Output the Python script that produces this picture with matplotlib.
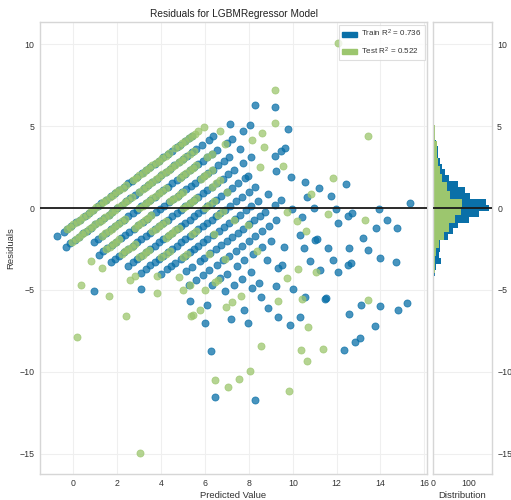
import matplotlib.pyplot as plt
import numpy as np

plt.rcParams['font.family'] = ['Liberation Sans', 'DejaVu Sans']
plt.rcParams['mathtext.default'] = 'regular'

train_color = '#0A70A8'
test_color = '#9CC66E'

# true (integer) target values; every point sits on one of these bands
true_values = [1, 2, 3, 4, 5, 6, 7, 8, 9, 10, 11, 12, 13, 14, 15, 16, 17, 18, 19, 20, 21]

# predicted values of the train points, one list per true value
train_pred = [
    [-0.73, -0.45, -0.28, -0.1, 0.12, 0.3, 0.52, 0.7, 0.88, 1.1, 1.28, 1.5, 1.72, 1.9, 2.08, 2.3,
     2.5, 2.68, 2.9, 3.12, 3.3, 3.48, 3.7, 3.9, 4.1, 4.32, 4.5, 4.7, 4.88, 5.1, 5.28, 5.42],
    [-0.35, -0.15, 0.05, 0.25, 0.45, 0.62, 0.8, 1.0, 1.2, 1.4, 1.6, 1.78, 2.0, 2.2, 2.4, 2.6, 2.8,
     3.0, 3.2, 3.4, 3.6, 3.8, 4.0, 4.2, 4.4, 4.6, 4.8, 5.0, 5.2, 5.4, 5.6, 5.86, 6.16, 6.38, 7.15, 8.29],
    [0.94, 1.12, 1.3, 1.5, 1.7, 1.88, 2.1, 2.3, 2.5, 2.7, 2.9, 3.1, 3.3, 3.5, 3.7, 3.9, 4.1, 4.3,
     4.5, 4.7, 4.9, 5.1, 5.3, 5.5, 5.7, 5.9, 6.1, 6.32, 6.55, 7.0, 7.23, 7.72, 8.06, 9.2],
    [1.16, 1.35, 1.55, 1.75, 1.95, 2.15, 2.35, 2.55, 2.75, 2.95, 3.15, 3.35, 3.55, 3.75, 3.95, 4.15,
     4.35, 4.55, 4.75, 4.95, 5.15, 5.35, 5.55, 5.75, 5.95, 6.15, 6.35, 6.6, 6.85, 7.1, 7.6],
    [1.7, 1.9, 2.1, 2.3, 2.5, 2.7, 2.9, 3.1, 3.3, 3.5, 3.7, 3.9, 4.1, 4.3, 4.5, 4.7, 4.9, 5.1, 5.3,
     5.5, 5.7, 5.9, 6.1, 6.3, 6.55, 6.8, 7.05, 7.3, 7.75, 8.1, 9.8],
    [0.94, 2.48, 2.7, 2.9, 3.1, 3.3, 3.5, 3.7, 3.9, 4.1, 4.3, 4.5, 4.7, 4.9, 5.1, 5.3, 5.5, 5.7,
     5.9, 6.1, 6.3, 6.5, 6.75, 7.0, 7.25, 7.5, 7.83, 7.98, 9.2, 9.47, 9.65],
    [3.06, 3.29, 3.5, 3.7, 3.9, 4.1, 4.3, 4.5, 4.7, 4.9, 5.1, 5.3, 5.5, 5.7, 5.9, 6.1, 6.3, 6.5,
     6.7, 6.9, 7.15, 7.4, 7.7, 8.0, 8.3, 9.24],
    [3.06, 4.0, 4.25, 4.45, 4.65, 4.9, 5.1, 5.3, 5.5, 5.7, 5.9, 6.1, 6.35, 6.62, 6.85, 7.1, 7.35,
     7.6, 7.85, 8.1, 8.4, 8.88, 9.9],
    [5.14, 5.4, 5.75, 5.95, 6.24, 6.5, 6.75, 7.0, 7.25, 7.5, 7.75, 8.0, 8.25, 8.5, 8.75, 9.2, 9.47, 10.56],
    [5.29, 5.6, 5.9, 6.2, 6.54, 6.8, 7.1, 7.4, 7.7, 8.0, 8.3, 8.6, 8.9, 9.24, 9.95, 10.67, 11.2],
    [5.3, 6.3, 6.7, 7.0, 7.45, 7.8, 8.2, 8.6, 9.0, 10.44, 10.98, 11.74, 12.45],
    [6.09, 6.92, 7.3, 7.68, 8.1, 8.82, 9.6, 10.33, 11.95],
    [5.98, 8.13, 8.44, 9.35, 9.5, 10.53, 11.02, 11.1, 12.07, 12.53, 12.68],
    [7.2, 7.78, 8.56, 9.24, 10.78, 11.59, 13.94],
    [6.27, 7.95, 8.89, 10.03, 11.24, 11.85, 12.56, 13.2, 13.81, 14.3, 15.33],
    [9.32, 10.56, 12.07, 12.53, 12.64, 13.45, 14.76],
    [9.88, 10.33, 11.47, 11.52, 13.97],
    [6.45, 14.73],
    [12.56, 13.1],
    [8.29, 14.0],
    [12.35, 12.83, 13.06, 13.77, 14.8, 15.22],
]

# predicted values of the test points, one list per true value
test_pred = [
    [-0.3, -0.15, 0.0, 0.15, 0.3, 0.45, 0.6, 0.75, 0.9, 1.05, 1.2, 1.35, 1.5, 1.65, 1.8, 1.95, 2.1,
     2.25, 2.4, 2.7, 2.85, 3.0, 3.15, 3.3, 3.45, 3.6, 3.75, 3.9, 4.05, 4.2, 4.35, 4.65, 4.8, 4.95,
     5.1, 5.25, 5.4, 5.55, 5.7, 5.94],
    [-0.05, 0.1, 0.25, 0.4, 0.55, 0.7, 0.85, 1.0, 1.15, 1.3, 1.45, 1.6, 1.75, 1.9, 2.05, 2.2, 2.35,
     2.5, 2.65, 3.0, 3.15, 3.3, 3.45, 3.6, 3.75, 3.9, 4.05, 4.2, 4.35, 4.5, 4.65, 4.8, 4.95, 5.1,
     5.3, 5.5, 6.7, 9.2, 12.07],
    [1.3, 1.45, 1.6, 1.75, 1.9, 2.05, 2.2, 2.35, 3.0, 3.15, 3.3, 3.45, 3.6, 3.75, 3.9, 4.05, 4.2,
     4.85, 5.0, 5.15, 5.3, 5.45, 5.6, 6.1, 6.3, 6.92],
    [0.79, 1.5, 1.65, 1.8, 1.95, 2.1, 2.8, 2.95, 3.1, 3.25, 3.4, 3.55, 4.4, 4.55, 4.7, 4.85, 5.0,
     5.8, 5.95, 6.1, 6.3, 8.16, 8.59, 9.2],
    [0.33, 1.32, 2.2, 2.35, 2.5, 2.65, 2.8, 3.6, 3.75, 3.9, 4.05, 4.2, 5.0, 5.15, 5.3, 5.45, 5.6,
     6.3, 6.5, 6.7, 8.71],
    [3.0, 3.15, 3.3, 3.45, 4.2, 4.35, 4.5, 4.65, 4.8, 6.0, 6.2, 6.4, 7.0, 8.51],
    [1.62, 2.6, 2.83, 4.0, 4.2, 4.4, 5.4, 5.6, 6.6, 6.8, 9.57],
    [0.15, 3.82, 5.0, 5.2, 6.4, 7.3],
    [2.41, 3.82, 4.8, 6.2, 7.98, 13.41],
    [4.98, 5.33, 6.9, 9.75, 10.83, 11.85],
    [6.0, 6.47, 6.6, 8.36, 10.2],
    [5.38, 5.45, 5.79, 10.59, 11.62],
    [6.95, 7.25, 7.64],
    [9.75, 10.25, 13.29],
    [9.35, 11.08],
    [10.43],
    [6.47, 8.56],
    [3.03, 7.05, 7.55, 8.03, 10.71],
    [10.36, 13.41],
    [10.66, 11.39],
    [9.83],
]

# residual histograms (50 bins each)
train_hist_lo, train_hist_hi = -11.69, 6.32
train_hist_counts = [2, 0, 0, 0, 0, 0, 0, 0, 1, 1,
                     1, 1, 2, 2, 2, 3, 3, 2, 2, 3,
                     3, 4, 7, 22, 16, 20, 18, 41, 57, 71,
                     100, 129, 157, 148, 105, 89, 71, 43, 33, 24,
                     19, 14, 12, 8, 6, 4, 3, 1, 0, 1]
test_hist_lo, test_hist_hi = -14.96, 10.08
test_hist_counts = [1, 0, 0, 0, 0, 0, 0, 0, 1, 2,
                    0, 1, 1, 1, 2, 1, 2, 2, 2, 2,
                    3, 3, 4, 5, 8, 15, 29, 43, 60, 79,
                    80, 48, 38, 24, 19, 14, 11, 9, 6, 4,
                    2, 0, 0, 0, 1, 0, 0, 0, 0, 1]

train_r2 = 0.736
test_r2 = 0.522


def to_points(preds):
    xs, res = [], []
    for k, ps in zip(true_values, preds):
        for p in ps:
            xs.append(p)
            res.append(p - k)  # residual = predicted - actual
    return xs, res


train_x, train_res = to_points(train_pred)
test_x, test_res = to_points(test_pred)

grid_color = '#efefef'
spine_color = '#d6d6d6'
text_color = '#333333'

fig = plt.figure(figsize=(5.11, 5.0), dpi=100)
ax = fig.add_axes([0.078, 0.053, 0.758, 0.902])
hax = fig.add_axes([0.848, 0.053, 0.114, 0.902], sharey=ax)

ax.scatter(train_x, train_res, s=26, color=train_color, alpha=0.75, linewidths=0.6)
ax.scatter(test_x, test_res, s=26, color=test_color, alpha=0.75, linewidths=0.6)
ax.axhline(0, color='#1a1a1a', lw=1.3, zorder=3)

edges_tr = np.linspace(train_hist_lo, train_hist_hi, len(train_hist_counts) + 1)
edges_te = np.linspace(test_hist_lo, test_hist_hi, len(test_hist_counts) + 1)
hax.hist(edges_tr[:-1], bins=edges_tr, weights=train_hist_counts,
         orientation='horizontal', color=train_color)
hax.hist(edges_te[:-1], bins=edges_te, weights=test_hist_counts,
         orientation='horizontal', color=test_color)
hax.axhline(0, color='#1a1a1a', lw=1.3, zorder=3)

ax.set_xlim(-1.53, 16.13)
ax.set_ylim(-16.21, 11.33)
ax.set_xticks([0, 2, 4, 6, 8, 10, 12, 14, 16])
ax.set_yticks([-15, -10, -5, 0, 5, 10])
hax.set_xticks([0, 100])

for a in (ax, hax):
    a.set_facecolor('white')
    for s in a.spines.values():
        s.set_color(spine_color)
        s.set_linewidth(1.0)
    a.tick_params(length=0, labelsize=6.3, labelcolor=text_color, pad=4)
    a.set_axisbelow(True)
ax.grid(True, color=grid_color, lw=0.8)
hax.grid(True, axis='y', color=grid_color, lw=0.8)
hax.yaxis.tick_right()
hax.tick_params(axis='y', labelright=True, labelleft=False)

ax.set_title('Residuals for LGBMRegressor Model', fontsize=7.3, color='#222222', pad=4)
ax.set_xlabel('Predicted Value', fontsize=6.8, color=text_color, labelpad=2)
ax.set_ylabel('Residuals', fontsize=6.8, color=text_color, labelpad=3)
hax.set_xlabel('Distribution', fontsize=6.8, color=text_color, labelpad=2)

handles = [plt.Rectangle((0, 0), 1, 1, color=train_color),
           plt.Rectangle((0, 0), 1, 1, color=test_color)]
labels = ['Train R$^2$ = {:0.3f}'.format(train_r2), 'Test R$^2$ = {:0.3f}'.format(test_r2)]
leg = ax.legend(handles, labels, loc='upper right', frameon=True, fontsize=5.8,
                fancybox=False, borderaxespad=0.3, handlelength=1.9, handleheight=0.6,
                handletextpad=0.5, labelspacing=0.8)
leg.get_frame().set_edgecolor(spine_color)
leg.get_frame().set_linewidth(0.8)
for t in leg.get_texts():
    t.set_color(text_color)

fig.savefig('out.png', dpi=100)
